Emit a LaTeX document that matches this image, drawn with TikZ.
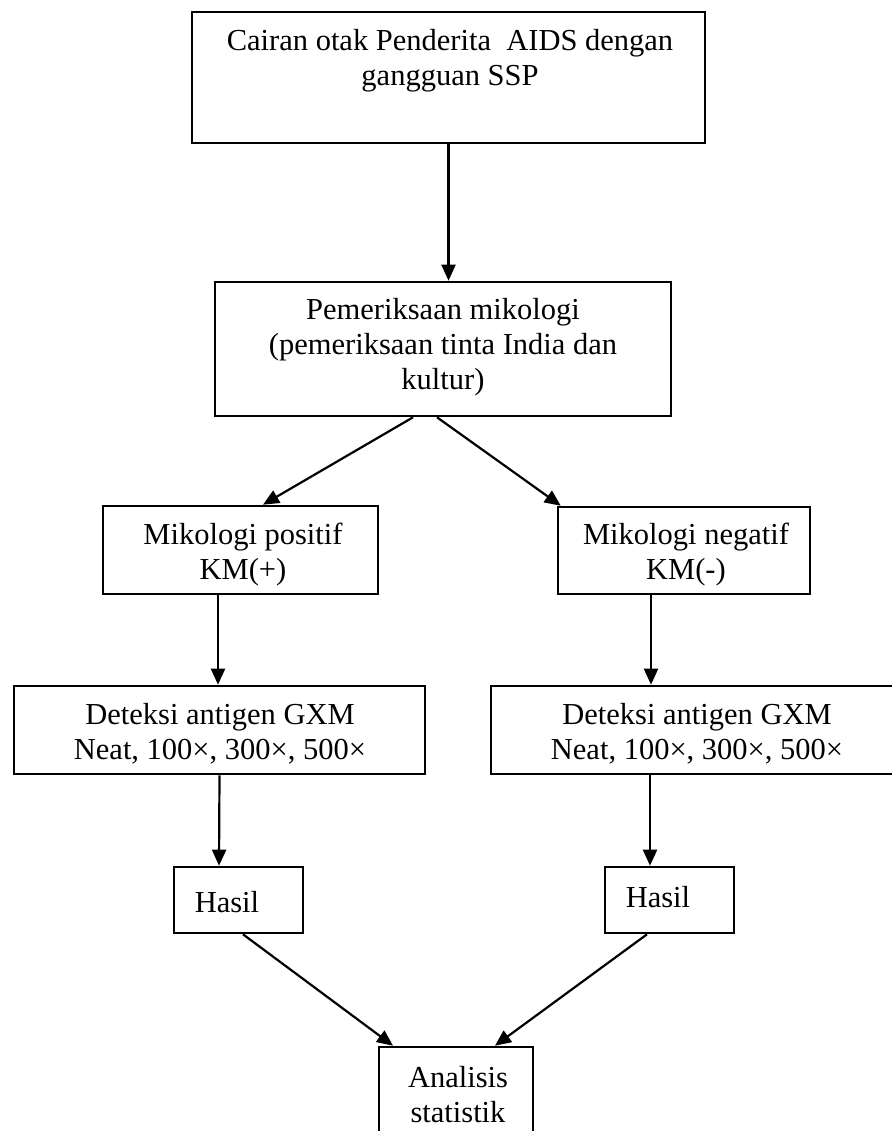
\documentclass[tikz,border=0pt]{standalone}
\usepackage{fontspec}
\setmainfont{Liberation Serif}
\usetikzlibrary{arrows.meta}
\begin{document}
\begin{tikzpicture}[x=1pt,y=-1pt,
  box/.style={draw=black, line width=2.6pt, rectangle, inner sep=0pt},
  txt/.style={align=center, font=\fontsize{30.5}{35}\selectfont, inner sep=0pt},
  arr/.style={draw=black, line width=2.2pt, -{Triangle[length=16pt,width=14pt]}}]
\useasboundingbox (0,0) rectangle (891,1131);
\fill[white] (0,0) rectangle (891,1131);
% boxes
\node[box, minimum width=513pt, minimum height=131pt] (top) at (448.5,77.5) {};
\node[box, minimum width=456pt, minimum height=134pt] (mid) at (443,349) {};
\node[box, minimum width=275pt, minimum height=88pt] (kmp) at (240.5,550) {};
\node[box, minimum width=252pt, minimum height=87pt] (kmn) at (684,550.5) {};
\node[box, minimum width=411pt, minimum height=88pt] (detl) at (219.5,730) {};
\node[box, minimum width=402pt, minimum height=88pt] (detr) at (692,730) {};
\node[box, minimum width=129pt, minimum height=66pt] (hasl) at (238.5,900) {};
\node[box, minimum width=129pt, minimum height=66pt] (hasr) at (669.5,900) {};
\node[box, minimum width=154pt, minimum height=100pt] (anal) at (456,1097) {};
% texts
\node[txt] (toptxt) at (450,60.5) {Cairan otak Penderita~ AIDS dengan\\gangguan SSP};
\node[txt] (midtxt) at (443,347) {Pemeriksaan mikologi\\(pemeriksaan tinta India dan\\kultur)};
\node[txt] (kmptxt) at (243,554.5) {Mikologi positif\\KM(+)};
\node[txt] (kmntxt) at (686,554.5) {Mikologi negatif\\KM(-)};
\node[txt] (detltxt) at (220,733.5) {Deteksi antigen GXM\\Neat, 100×, 300×, 500×};
\node[txt] (detrtxt) at (697,733.5) {Deteksi antigen GXM\\Neat, 100×, 300×, 500×};
\node[txt] (hasltxt) at (227,902) {Hasil};
\node[txt] (hasrtxt) at (658,897) {Hasil};
\node[txt] (analtxt) at (458,1095) {Analisis\\statistik};
% connectors
\draw[arr] (top.south) -- (top.south |- mid.north);
\draw[arr] ([xshift=-30pt]mid.south) -- ([xshift=22.5pt]kmp.north);
\draw[arr] ([xshift=-6pt]mid.south) -- ([xshift=4pt]kmn.north west);
\draw[arr] ([xshift=-22.5pt]kmp.south) -- ([xshift=-1.5pt]detl.north);
\draw[arr] ([xshift=-33pt]kmn.south) -- ([xshift=-41pt]detr.north);
\draw[arr] (detl.south) -- ([xshift=-19.5pt]hasl.north);
\draw[arr] ([xshift=-42pt]detr.south) -- ([xshift=-19.5pt]hasr.north);
\draw[arr] ([xshift=4.5pt]hasl.south) -- ([xshift=-63pt]anal.north);
\draw[arr] ([xshift=-22.5pt]hasr.south) -- ([xshift=39pt]anal.north);
\end{tikzpicture}
\end{document}
